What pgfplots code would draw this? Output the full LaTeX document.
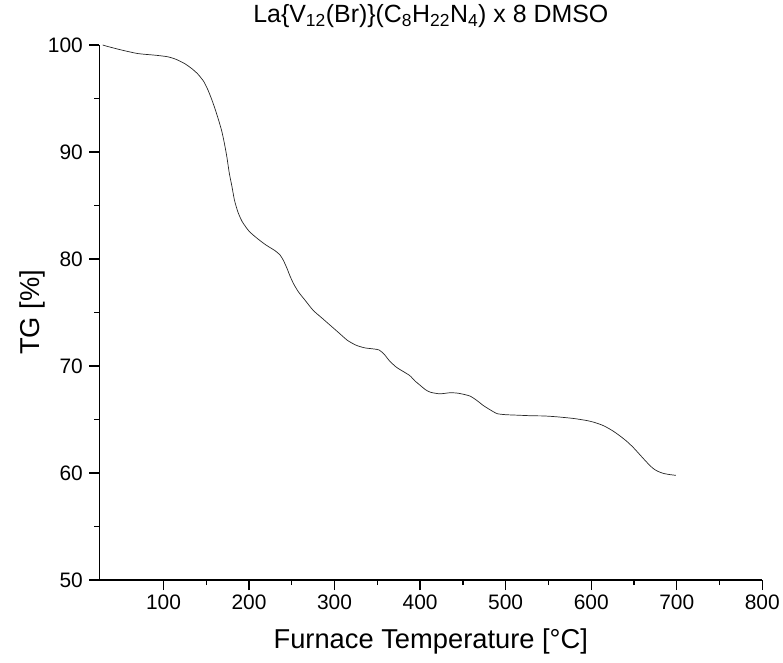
\documentclass[border=0pt]{standalone}
\usepackage{pgfplots}
\pgfplotsset{compat=1.18}
\usepackage{fontspec}
\setmainfont{Liberation Sans}
\begin{document}
\begin{tikzpicture}
\begin{axis}[
  name=ax,
  at={(0,0)}, anchor=south west,
  scale only axis,
  width=663bp, height=535bp,
  xmin=25, xmax=800, ymin=50, ymax=100,
  axis x line*=bottom, axis y line*=left,
  axis line style={line width=1.5bp, black},
  xtick={100,200,...,800},
  ytick={50,60,...,100},
  minor x tick num=1, minor y tick num=1,
  tick align=outside,
  major tick length=10bp, minor tick length=5bp,
  every tick/.style={black, line width=1.3bp},
  /pgf/number format/assume math mode=true,
  tick label style={font=\fontsize{21}{24}\selectfont},
  xticklabel style={yshift=-1bp},
  yticklabel style={xshift=-3bp},
  title={La\{V\textsubscript{12}(Br)\}(C\textsubscript{8}H\textsubscript{22}N\textsubscript{4}) x 8 DMSO},
  title style={at={([yshift=16.5bp]axis description cs:0.5,1)}, anchor=base, font=\fontsize{25}{28}\selectfont},
  xlabel={Furnace Temperature [°C]},
  xlabel style={at={([yshift=-68bp]axis description cs:0.5,0)}, anchor=base, font=\fontsize{27.4}{30}\selectfont},
  ylabel={TG [\%]},
  ylabel style={at={([xshift=-60bp]axis description cs:0,0.5)}, anchor=base, rotate=0, font=\fontsize{27.4}{30}\selectfont},
  clip=false,
]
\addplot[black!85, line width=0.7bp, smooth, tension=0.4] coordinates {
(29,100.0) (34,99.88) (50,99.55) (70,99.2) (90,99.05) (105,98.9) (115,98.65)
(125,98.25) (133,97.8) (140,97.3) (147,96.6) (152,95.8) (156,95.0) (160,94.1)
(164,93.1) (168,92.0) (171,90.9) (174,89.6) (177,88.0) (180,86.8) (183,85.5)
(187,84.4) (192,83.5) (200,82.6) (210,81.9) (220,81.3) (230,80.8) (236,80.4)
(240,79.9) (244,79.2) (248,78.4) (252,77.7) (258,76.9) (266,76.1) (275,75.2)
(285,74.5) (295,73.8) (305,73.1) (315,72.4) (325,71.95) (335,71.7) (345,71.6)
(352,71.5) (358,71.1) (364,70.5) (372,69.9) (380,69.5) (388,69.1) (394,68.6)
(400,68.2) (406,67.8) (412,67.55) (423,67.4) (435,67.5) (445,67.45) (458,67.2)
(466,66.8) (474,66.3) (482,65.9) (490,65.55) (500,65.45) (515,65.4) (530,65.35)
(545,65.33) (560,65.25) (579,65.1) (595,64.9) (605,64.7) (615,64.4) (625,63.95)
(633,63.5) (641,63.0) (649,62.4) (657,61.7) (665,61.0) (672,60.45) (678,60.15)
(685,59.95) (692,59.85) (699,59.78)
};
\end{axis}
\pgfresetboundingbox
\path[use as bounding box] (-99.3bp,-83bp) rectangle (683.7bp,580bp);
\end{tikzpicture}
\end{document}
